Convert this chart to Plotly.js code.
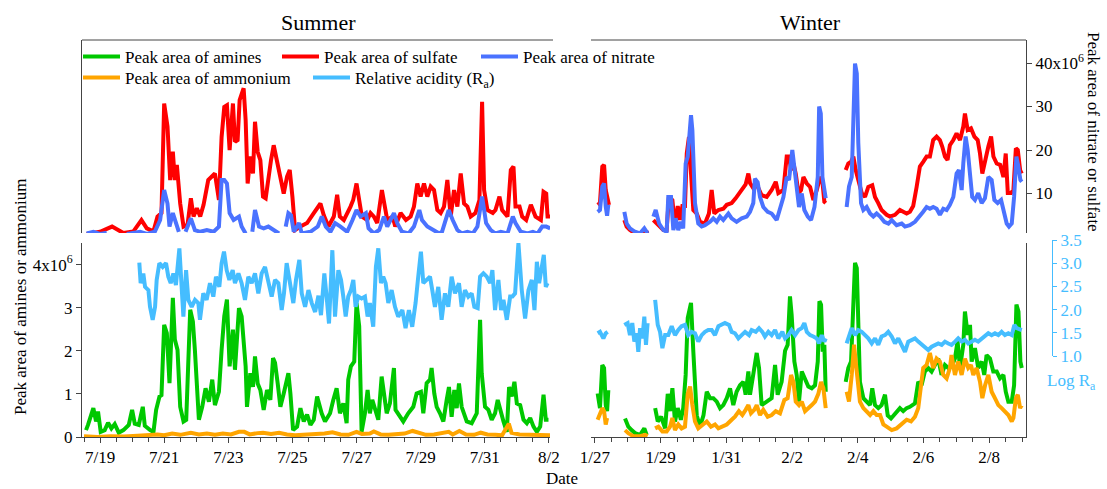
<!DOCTYPE html>
<html><head><meta charset="utf-8">
<script src="https://cdn.plot.ly/plotly-3.0.1.min.js"></script>
<style>html,body{margin:0;padding:0;background:#fff}#chart{width:1107px;height:489px}</style>
</head><body><div id="chart"></div>
<script>
// ---------- DATA (hours since season start, value) ----------
// Summer: hours since 2013-07-18 12:00 ; peak areas in units of 1e6
const summerStart = '2013-07-18T12:00:00Z';
const winterStart = '2014-01-27T00:00:00Z';

const sumSulfate = [[2,0.7],[12,1.2],[21,2.4],[29.5,0.9],[37,1.3],[43,3.9],[47,2.0],[52,1.3],[55,4.7],[58,5.5],[60,30.7],[62.5,25.4],[64.5,13.1],[66.5,19.6],[68,13.1],[69.5,16.6],[72,7.7],[74.5,2.4],[77.5,2.8],[80,8.9],[82,4.7],[84.5,6.6],[87,4.7],[89.5,7.4],[93,13.1],[96,13.9],[98,14.6],[101,8.5],[103,23.0],[105,29.9],[107,30.3],[109,20.0],[111.5,30.7],[113,21.9],[115,22.3],[116.5,31.5],[118,32.6],[119.5,34.2],[121,26.9],[122.5,12.3],[124.5,18.5],[126.5,14.6],[128,26.5],[130,19.6],[132,17.7],[134,9.3],[136,8.9],[138,13.9],[140,17.7],[142,21.1],[144.5,17.3],[147,13.1],[149.5,10.0],[152,13.9],[154,15.4],[156,9.3],[158,1.6],[162,2.4],[167,3.2],[172,5.5],[175,7.0],[177,7.7],[179.5,5.0],[183,2.4],[187,4.7],[189.5,9.7],[191.5,4.7],[194.5,3.9],[199.5,7.0],[201.5,8.5],[204,12.3],[206,8.5],[208,4.7],[212,3.9],[214.5,5.5],[217,4.7],[219.5,3.2],[223,10.8],[225,7.0],[227,3.9],[231,4.7],[233,2.4],[237,5.5],[241,3.9],[244.5,4.7],[247,7.0],[249.5,12.3],[252,9.3],[254.5,12.3],[257,9.3],[259.5,11.6],[262,10.8],[264.5,6.2],[267,5.5],[269.5,7.0],[272,13.1],[274.5,4.7],[277,10.8],[279.5,7.0],[282,14.6],[284.5,7.7],[287,7.0],[289.5,4.7],[293,5.5],[296,8.5],[298,31.1],[299.5,10.8],[302,6.2],[306,5.5],[308,6.2],[311,9.3],[313,6.2],[317,4.7],[319.5,15.4],[321.5,16.2],[323,7.0],[326,7.0],[328,4.7],[331,3.9],[334.5,7.4],[338,4.7],[342,3.9],[344,10.4],[346,10.0],[347,4.7],[349,4.7]];

const sumNitrate = [[2,0.8],[7,1.2],[12,0.7],[17,1.0],[20,null],[32,0.7],[42,1.2],[47,0.7],[53,1.2],[57,3.9],[60,10.8],[62.5,7.7],[64,2.4],[66.5,5.5],[68,3.9],[71,1.2],[73,null],[76,1.2],[80,4.3],[83,1.6],[87,1.2],[92,1.6],[97,1.2],[101,2.4],[103,13.1],[105,13.1],[107,12.3],[109,5.5],[112,3.9],[116,4.7],[118,2.4],[121,0.8],[123,null],[126,1.2],[128,6.2],[131,2.4],[134.5,2.0],[138,2.4],[142,1.6],[146,0.8],[148,null],[151,2.4],[153,5.5],[155,5.0],[157,1.2],[161,3.2],[163,0.8],[169.5,1.2],[175,2.4],[178,4.7],[181,2.4],[184.5,1.2],[188,3.2],[192,2.4],[197,1.2],[201,3.9],[204,6.2],[207,4.7],[211,5.5],[213,2.0],[217,0.8],[221,1.6],[224.5,4.7],[227,2.4],[232,5.5],[234.5,3.2],[238,1.2],[243,0.8],[247,2.4],[251,6.2],[253,3.9],[257,2.4],[262,1.6],[266,0.8],[268,1.2],[273,6.2],[276,3.9],[279.5,1.6],[283,0.8],[287,1.2],[291,0.8],[294.5,2.4],[298,9.3],[301,3.2],[304.5,1.6],[308,0.8],[312,1.2],[317,0.8],[321,4.7],[323,3.2],[327,1.2],[332,0.8],[336,1.2],[339.5,0.8],[343,2.4],[346,2.4],[349,2.0]];

const sumAmines = [[1.5,0.16],[3,0.28],[7,0.67],[9,0.36],[10.5,0.59],[12.5,0.12],[15.5,0.16],[18,0.33],[20.5,0.2],[23,0.3],[26,0.1],[29.5,0.16],[33.5,0.28],[36,0.63],[38,0.31],[41,0.28],[44,0.7],[45.5,0.26],[49.5,0.16],[52,0.12],[54,0.63],[56.5,0.94],[58,0.97],[60,2.6],[62,2.41],[64,1.25],[66.5,3.23],[68,2.26],[70,2.02],[72,0.7],[74.5,0.36],[76.5,0.4],[79.5,2.95],[81.5,2.68],[83,2.02],[86,0.4],[88.5,0.7],[91,1.13],[93.5,0.82],[96,1.33],[98,0.74],[101,1.05],[103,2.02],[105,2.8],[107,3.19],[109,1.64],[111.5,2.49],[113,1.56],[116,2.99],[118,2.8],[121,1.64],[122,0.7],[124.5,1.48],[126.5,1.16],[128,1.87],[130,1.24],[132,1.09],[134.5,0.63],[137,1.09],[139.5,0.86],[141.5,1.83],[143,1.72],[145,1.24],[147,0.7],[149.5,1.01],[153,1.48],[154.5,1.01],[156.5,0.16],[159.5,0.24],[162,0.67],[164.5,0.36],[167,0.52],[169.5,0.28],[172,0.4],[174.5,0.94],[177.9,0.55],[180.4,0.36],[184.2,0.55],[186.6,0.86],[189.1,1.13],[191.6,0.55],[194.1,0.78],[196.6,0.32],[197.8,1.33],[199.8,1.64],[202.3,1.75],[204,3.11],[206,2.57],[207.8,0.12],[210.3,0.55],[212.3,1.09],[214,0.55],[215.8,0.86],[217.8,0.63],[220.3,0.4],[222.8,1.4],[224.8,0.94],[226.6,0.55],[229,0.78],[232,1.6],[233.2,0.63],[236.5,0.47],[239,0.36],[242.7,0.55],[246.5,0.7],[249,1.01],[252.2,1.05],[254,0.55],[256.5,1.25],[259,1.33],[260.2,1.6],[262.2,1.01],[264,0.7],[266.5,0.55],[269,0.36],[271.5,0.86],[273.2,1.16],[275.2,0.47],[277.2,1.09],[279,0.67],[280.7,1.24],[282.7,0.7],[286.5,0.36],[290.2,0.32],[294,0.55],[296.5,2.72],[297.7,1.48],[300.2,0.7],[302.7,0.63],[305.2,0.4],[307.7,0.55],[309.7,0.86],[311.5,0.63],[314,0.36],[316.5,0.12],[318.2,1.16],[320.2,0.94],[322.2,1.28],[324,0.78],[326.5,0.74],[329,0.4],[331.5,0.32],[334,0.44],[336.5,0.24],[339,0.12],[341.5,0.24],[344,0.98],[345.7,0.4],[347.7,0.4]];

const sumAmmonium = [[0,0.02],[10,0.0],[20,0.02],[30,0.01],[40,0.03],[50,0.04],[55,0.06],[60,0.04],[66,0.08],[72,0.05],[80,0.1],[86,0.06],[92,0.08],[98,0.05],[104,0.08],[110,0.06],[116,0.12],[120,0.12],[124,0.06],[130,0.09],[134,0.1],[140,0.07],[146,0.1],[152,0.06],[158,0.04],[164,0.05],[170,0.06],[174,0.05],[180,0.08],[186,0.11],[192,0.06],[198,0.05],[204,0.12],[208,0.07],[214,0.08],[217,0.13],[222,0.06],[228,0.05],[234,0.07],[240,0.08],[246,0.14],[250,0.1],[256,0.05],[262,0.06],[268,0.08],[273,0.12],[276,0.06],[281,0.14],[286,0.06],[292,0.05],[297,0.1],[302,0.06],[308,0.05],[313,0.04],[318,0.31],[320,0.1],[326,0.06],[332,0.05],[338,0.04],[344,0.05],[349,0.04]];

const sumRa = [[41.4,3.01],[42.4,2.57],[44.4,2.78],[45.7,2.49],[48.2,2.42],[49.4,2.06],[51.4,1.78],[53.2,2.06],[54.4,2.64],[56.4,3.0],[58.9,2.92],[61.4,3.0],[63.1,2.71],[64.9,2.57],[66.9,2.78],[68.8,2.53],[71.4,3.32],[72.6,2.57],[74.4,1.85],[76.4,2.85],[78.1,2.21],[80.6,2.06],[83.1,2.21],[85.6,2.14],[86.8,1.78],[89.3,2.35],[91.8,2.21],[94.3,2.57],[96.8,2.28],[98.8,2.71],[101.3,2.49],[103,3.0],[104.8,3.25],[106.8,2.85],[108.8,2.64],[111.3,2.85],[113,2.57],[115.6,2.78],[118,2.57],[120.5,2.21],[123,2.71],[125.5,2.57],[128,2.78],[130.5,2.35],[133,2.78],[135.5,2.92],[138,2.57],[140.5,2.28],[143,2.64],[145.5,2.57],[148,1.99],[149.7,2.35],[151.7,3.0],[154.2,2.57],[156.7,2.14],[158.7,2.64],[161.2,3.07],[163,2.35],[165.5,2.06],[168,2.42],[170.5,2.14],[173,1.95],[175.5,2.3],[177.4,1.88],[179.9,2.78],[181.6,2.28],[183.4,1.7],[185.9,3.28],[187.9,1.85],[190.4,2.85],[192.4,2.64],[194.1,2.28],[195.9,1.85],[197.8,2.28],[199.8,2.42],[201.6,2.64],[203.3,2.06],[205.3,2.28],[207.8,2.24],[210.3,2.28],[212.3,1.85],[214,2.14],[216.5,1.63],[218.5,2.92],[220.3,3.32],[222.3,2.57],[224,2.71],[225.8,2.57],[227.8,2.14],[230.3,2.42],[232.8,2.06],[235.2,1.85],[238.3,1.99],[240.7,1.6],[243.2,1.99],[245.7,1.63],[248.2,2.14],[250.2,2.71],[252.2,3.25],[254,2.57],[256.5,2.64],[259,2.71],[260.7,2.42],[262.7,2.06],[265.2,2.49],[267.7,1.78],[270.2,2.35],[272.7,2.06],[275.2,2.71],[277.7,2.35],[280.7,2.57],[282.7,2.06],[285.2,2.42],[287.7,2.28],[290.2,2.35],[292.2,2.06],[294.7,2.03],[296.5,2.71],[299,2.78],[301.5,2.71],[304,2.57],[305.7,2.85],[307.7,1.99],[310.2,2.64],[312.2,1.99],[314,2.21],[316.5,1.78],[319,2.28],[320.7,2.28],[322.7,2.35],[325.2,3.43],[327.7,2.42],[330.2,1.81],[332.7,2.42],[335.2,2.64],[337.2,1.99],[339,3.03],[340.7,2.57],[342.7,2.92],[344.2,3.18],[345.7,2.49],[347,2.57]];

// Winter: hours since 2014-01-27 00:00
const winSulfate = [[2,7.4],[3.7,7.8],[5.4,16.2],[6.7,16.6],[7.9,10.8],[9.3,8.5],[10.3,7.4],[15,null],[21.5,3.9],[23.2,2.4],[25.6,1.6],[29.3,0.85],[33,0.7],[36.1,1.6],[37.8,1.0],[39.5,1.0],[41,null],[42.7,3.9],[45.1,3.1],[47.6,2.4],[50,1.6],[52.4,1.6],[54.1,9.3],[56.6,8.5],[58.5,2.4],[60.5,7.1],[62.2,3.9],[63.9,7.1],[65.8,7.1],[67.1,19.2],[68.7,23],[70.2,14.6],[71.9,6.2],[74.4,5.4],[76.8,3.5],[80.4,3.1],[83.3,5.4],[85.3,10.8],[87.2,5.4],[90.2,6.2],[93.8,6.5],[96.3,7.4],[99.9,7.8],[102.8,8.9],[106,10.4],[108.4,11.2],[110.1,12.1],[112.1,14.6],[113.3,12.4],[115.7,11.2],[118.2,12.1],[121.8,9.6],[125.5,9.2],[129.1,10.8],[132.1,12.7],[134,10.1],[137.7,10.8],[140.1,18.5],[141.8,18.5],[143.3,15.4],[145,16.9],[146.7,14.6],[148.7,10.1],[150.6,10.8],[152.3,13.8],[154.8,12.3],[157.2,11.5],[159.6,8.5],[162.1,10.8],[164.5,13.8],[166.2,12.7],[167.6,8.1],[168.6,7.8],[175,null],[183.2,15.4],[185.1,16.9],[187.1,17.3],[188.8,18.5],[190.5,15.4],[192.4,13.1],[194.9,10.1],[197.3,9.2],[199.7,11.5],[202.6,11.9],[204.6,9.2],[207,7.8],[209.4,6.2],[213.1,5.1],[215.5,4.7],[219.2,5.1],[222.8,6.2],[225.2,5.8],[227.7,5.4],[230.1,5.8],[232.5,7.1],[235,11.5],[237.4,16.2],[239.8,17.3],[242.3,18.5],[244.7,18.5],[247.1,22.3],[249.6,23.1],[252,22.3],[253.7,20.8],[255.7,18.5],[257.6,17.7],[259.3,21.1],[261.8,22.3],[264.2,23.8],[266.7,22.3],[269.1,25.4],[270.3,28.4],[272.3,24.6],[274.7,25],[277.2,23.1],[279.6,22.3],[281.3,19.2],[283,14.6],[285,17.7],[287.4,20.8],[289.4,23.1],[291.1,18.5],[293.5,16.9],[296,16.6],[298.4,13.8],[300.1,19.2],[301.6,10.1],[304,10.1],[305.7,10.8],[307.5,20.4],[308.9,20],[310.6,15.4],[311.8,14.6]];

const winNitrate = [[2,5.8],[3.7,6.2],[5.4,11.6],[6.7,12.3],[7.9,7.0],[8.9,4.9],[9.8,7.4],[15,null],[21.5,5.8],[23.2,3.1],[25.6,2.0],[29.3,1.2],[33,0.85],[36.1,2.0],[38.5,0.85],[41,null],[42.7,4.7],[44.4,6.2],[46.9,3.1],[50,1.6],[52.4,1.2],[53.6,9.2],[55.6,9.2],[57.3,1.6],[59,4.3],[60.9,1.6],[62.8,3.5],[64.5,2.0],[66.3,16.9],[67.8,18.5],[70.2,28],[71.2,24.6],[73.1,7.8],[75.5,3.1],[78,2.4],[80.4,2.7],[84.1,3.5],[86.5,4.3],[89,3.5],[91.4,4.7],[93.8,3.9],[97.5,5.4],[99.9,4.3],[103.5,3.5],[107.2,4.3],[110.9,4.7],[113.3,5.8],[115.7,7.8],[116.9,13.4],[118.9,12.6],[120.6,9.2],[123,6.9],[126.2,5.8],[129.1,5.4],[132.8,3.9],[135.2,6.5],[137.7,9.2],[140.1,13.8],[141.8,13.1],[144.2,20],[145.7,16.1],[147.4,11.6],[149.1,6.9],[151.1,10.0],[153,6.2],[155.5,4.7],[157.9,3.9],[160.4,6.9],[162.8,13.8],[163.8,30],[165,28.4],[166.2,13.8],[167.6,11.6],[168.6,8.9],[175,null],[183.9,6.9],[185.6,11.6],[187.6,13.8],[188.8,24.6],[190,39.9],[191.3,37.6],[192.4,21.6],[194.4,7.8],[196.1,6.2],[198.5,6.9],[201,5.4],[203.4,4.7],[205.8,5.4],[208.3,4.7],[211.4,3.5],[214.4,3.1],[216.8,3.9],[220.4,2.7],[224.1,3.1],[226.5,2.4],[230.1,2.7],[233.8,3.5],[237.4,4.7],[239.8,5.8],[242.3,6.9],[244.7,6.5],[247.1,6.9],[249.6,6.5],[252,5.1],[254.5,6.5],[256.9,6.2],[259.3,7.4],[261.8,9.2],[264.2,14.6],[265.9,15.4],[267.9,10.8],[269.1,16.9],[270.8,23.1],[272.3,20],[273.9,14.6],[275.6,9.2],[277.6,8.5],[280,10.1],[282.5,7.8],[284.9,8.9],[287.4,13.8],[289.8,13.1],[291.8,8.5],[294.2,7.8],[296.7,8.5],[298.6,5.8],[300.8,3.1],[302.5,2.4],[304.5,3.1],[306.2,9.2],[307.9,18.5],[309.4,16.1],[310.8,13.1],[311.8,12.7]];

const winAmines = [[2,1.01],[3.7,0.67],[5.4,1.67],[6.7,1.6],[7.9,0.74],[8.9,0.6],[9.8,1.09],[15,null],[22,0.43],[24.4,0.24],[26.8,0.16],[29.3,0.09],[33,0.05],[36.1,0.2],[37.8,0.05],[41,null],[44,0.67],[45.9,0.36],[48.4,0.47],[51.3,0.2],[53.2,1.0],[54.9,0.6],[56.6,1.13],[58.5,0.36],[60.5,0.67],[62.8,0.4],[64.5,0.67],[66.3,1.44],[67.8,2.76],[70.2,3.11],[71.9,1.98],[74.4,0.5],[76.8,0.24],[79.3,0.5],[81.7,1.05],[84.1,0.9],[86.5,0.9],[89,0.82],[91.4,0.67],[93.8,0.74],[96.3,0.9],[98.7,1.13],[101.1,0.74],[103.5,1.05],[106,1.2],[108.4,1.28],[110.1,0.98],[112.1,1.52],[113.3,0.98],[115.7,1.44],[118.2,1.95],[119.9,1.6],[121.8,0.74],[125.5,0.82],[129.1,0.9],[131.6,1.67],[133.5,0.98],[136.4,1.28],[138.9,2.0],[140.8,2.14],[142.5,3.26],[143.7,2.84],[145.7,1.75],[147.4,1.44],[149.1,0.82],[151.1,1.52],[153.5,1.36],[155.9,1.17],[158.4,1.13],[160.8,1.2],[162.8,1.75],[164,3.15],[165.2,3.07],[166.4,1.98],[167.6,2.14],[168.6,1.05],[175,null],[183.2,1.28],[185.1,1.6],[187.1,1.75],[188.8,3.15],[190,4.04],[191.3,3.92],[192.4,2.37],[193.6,1.28],[196.1,0.9],[198.5,0.82],[201,0.74],[202.6,1.13],[204.6,0.74],[207,0.67],[209.4,0.74],[211.9,0.98],[213.9,0.5],[216.3,0.43],[219.2,0.55],[222.8,0.67],[225.2,0.6],[227.7,0.67],[230.1,0.7],[233.8,0.78],[236.2,1.28],[238.6,1.2],[241,1.52],[243.5,1.6],[245.9,1.52],[248.4,1.67],[250.8,1.82],[253.2,1.44],[255.7,1.67],[258.1,1.6],[260.5,1.63],[263,1.82],[264.9,2.22],[266.7,1.6],[269.1,2.14],[270.3,2.91],[272.3,2.37],[274,2.6],[275.2,1.75],[277.6,2.06],[280,1.6],[282.5,1.75],[284.4,1.44],[286.1,1.9],[288.6,1.82],[291,1.52],[293.5,1.52],[295.9,1.36],[298.4,1.44],[300.1,1.05],[302,0.82],[304.5,0.82],[306.2,1.2],[307.9,3.07],[309.4,2.91],[310.8,1.75],[311.8,1.6]];

const winAmmonium = [[2,0.4],[3.7,0.51],[5.4,0.67],[6.7,0.6],[7.9,0.29],[8.9,0.44],[15,null],[22,0.16],[24.4,0.09],[28,0.02],[33,0.02],[36.6,0.05],[38.5,0.02],[41,null],[44,0.2],[46.4,0.24],[49.3,0.13],[52.4,0.13],[54.9,0.24],[56.6,0.44],[58.5,0.16],[60.9,0.29],[63.3,0.2],[65.8,0.24],[67.8,1.0],[69.5,1.17],[71.2,0.74],[73.1,0.36],[75.5,0.2],[79.3,0.29],[81.7,0.36],[84.8,0.24],[87.7,0.29],[90.2,0.2],[93.1,0.24],[96.3,0.29],[99.9,0.4],[102.3,0.47],[105.2,0.6],[107.7,0.51],[110.1,0.63],[112.1,0.74],[114,0.55],[116.4,0.63],[118.2,0.74],[120.6,0.51],[123,0.63],[126.2,0.47],[129.1,0.51],[132.1,0.6],[135.2,0.55],[138.4,0.86],[140.8,0.9],[143.3,1.44],[145,1.28],[146.7,0.82],[149.1,0.74],[151.1,0.82],[153.5,0.6],[155.5,0.67],[158.4,0.74],[160.8,0.82],[163.2,1.0],[165.2,1.28],[166.9,1.13],[168.6,0.67],[175,null],[183.9,1.05],[185.6,0.82],[187.6,1.44],[189.3,2.14],[190.5,1.75],[192,1.28],[193.6,0.82],[196.1,0.67],[198.5,0.6],[201,0.51],[203.4,0.6],[205.8,0.51],[208.3,0.51],[210.7,0.29],[213.1,0.24],[216.8,0.16],[220.4,0.2],[224.1,0.29],[227.7,0.4],[230.9,0.36],[233.8,0.47],[236.2,0.67],[239.8,1.6],[242.3,1.67],[244.7,1.95],[247.1,1.6],[249.6,1.82],[252,1.75],[254.5,1.44],[256.9,1.36],[259.3,1.6],[260.5,1.9],[263,1.44],[265.4,1.75],[267.9,1.44],[270.3,1.82],[272.7,1.6],[274.7,1.67],[276.4,1.44],[278.8,1.6],[281.3,1.28],[283,0.9],[285,1.2],[287.4,1.44],[289.8,1.05],[292.2,0.9],[294.7,0.74],[297.1,0.67],[299.5,0.6],[302,0.51],[304.5,0.36],[305.7,0.44],[307.5,0.9],[308.9,0.98],[310.6,0.67],[311.8,0.74]];

const winRa = [[2,1.49],[3.7,1.52],[6.2,1.38],[7.9,1.49],[9.3,1.52],[15,null],[21.5,1.67],[23.9,1.71],[25.6,1.45],[27.3,1.71],[28.8,1.31],[30.5,1.49],[31.7,1.09],[33,1.6],[34.7,1.38],[36.1,1.85],[37.3,1.24],[38.5,1.71],[41,null],[44,2.21],[45.9,1.67],[47.6,1.52],[49.3,1.17],[51.3,1.45],[53.6,1.45],[56.1,1.64],[58.5,1.45],[60.9,1.56],[63.3,1.64],[65.8,1.67],[68.2,1.45],[70.6,1.52],[73.1,1.49],[75.5,1.31],[78,1.45],[80.4,1.52],[82.8,1.56],[85.3,1.56],[87.7,1.45],[90.2,1.64],[92.6,1.67],[95,1.71],[98,1.67],[99.9,1.52],[102.3,1.49],[104.8,1.38],[107.2,1.45],[109.7,1.52],[112.6,1.45],[114.5,1.56],[117.5,1.52],[119.9,1.6],[122.3,1.52],[124.2,1.42],[126.7,1.52],[129.1,1.45],[131.6,1.56],[134,1.38],[136.9,1.52],[138.9,1.38],[141.3,1.45],[143.7,1.56],[146.2,1.45],[148.7,1.56],[151.1,1.6],[153,1.71],[154.8,1.52],[157.2,1.45],[159.6,1.42],[162.1,1.38],[163.8,1.27],[165.7,1.45],[167.6,1.31],[168.6,1.38],[175,null],[183.9,1.27],[185.6,1.45],[187.6,1.6],[190,1.45],[192.4,1.56],[194.9,1.52],[197.3,1.45],[199.7,1.38],[202.2,1.27],[204.6,1.38],[207,1.24],[209.4,1.42],[211.9,1.45],[214.3,1.52],[216.8,1.42],[219.2,1.27],[221.6,1.38],[224.1,1.24],[226.5,1.09],[228.9,1.31],[231.4,1.35],[233.8,1.38],[236.2,1.31],[238.7,1.24],[241.1,1.17],[243.5,1.13],[246,1.2],[248.4,1.24],[250.8,1.27],[253.3,1.24],[255.7,1.31],[258.1,1.27],[260.5,1.24],[263,1.31],[265.4,1.38],[267.9,1.31],[270.3,1.35],[272.7,1.27],[275.2,1.31],[277.6,1.35],[280,1.31],[282.5,1.38],[284.9,1.42],[287.4,1.49],[289.8,1.45],[292.2,1.49],[294.7,1.45],[297.1,1.52],[299.5,1.45],[302,1.49],[304.5,1.45],[306.4,1.67],[308.1,1.6],[310.6,1.56],[311.8,1.56]];

const names = {
  amines: 'Peak area of amines',
  sulfate: 'Peak area of sulfate',
  nitrate: 'Peak area of nitrate',
  ammonium: 'Peak area of ammonium',
  ra: 'Relative acidity (R<sub>a</sub>)'
};
const yTicksLeft = {vals:[0,1,2,3,4], text:['0','1','2','3','4x10<sup>6</sup>']};
const yTicksRight = {vals:[10,20,30,40], text:['10','20','30','40x10<sup>6</sup>']};

// ---------- STYLE / LAYOUT ----------
const W = 1107, H = 489;
const FONT = 'Liberation Serif, Times New Roman, serif';
const C = {amines:'#00c800', sulfate:'#ff0000', nitrate:'#4a72ff', ammonium:'#ffa500', ra:'#45bdff'};
const AX = '#444';

function toSeries(start, pts){
  const b = Date.parse(start);
  return {
    x: pts.map(p => new Date(b + p[0]*3600000).toISOString().replace('T',' ').slice(0,19)),
    y: pts.map(p => p[1])
  };
}
function tr(start, pts, key, xa, ya, show, leg){
  const s = toSeries(start, pts);
  return {type:'scatter', mode:'lines', x:s.x, y:s.y, xaxis:xa, yaxis:ya,
    name:names[key], line:{color:C[key], width:4}, showlegend:show, legend:leg,
    connectgaps:false, hoverinfo:'skip'};
}

const data = [
  tr(summerStart, sumSulfate, 'sulfate', 'x', 'y3', true, 'legend'),
  tr(winterStart, winSulfate, 'sulfate', 'x2', 'y4', false, 'legend'),
  tr(summerStart, sumNitrate, 'nitrate', 'x', 'y3', true, 'legend'),
  tr(winterStart, winNitrate, 'nitrate', 'x2', 'y4', false, 'legend'),
  tr(summerStart, sumAmines, 'amines', 'x', 'y', true, 'legend'),
  tr(winterStart, winAmines, 'amines', 'x2', 'y2', false, 'legend'),
  tr(summerStart, sumAmmonium, 'ammonium', 'x', 'y', true, 'legend2'),
  tr(winterStart, winAmmonium, 'ammonium', 'x2', 'y2', false, 'legend2'),
  tr(summerStart, sumRa, 'ra', 'x', 'y5', true, 'legend2'),
  tr(winterStart, winRa, 'ra', 'x2', 'y5', false, 'legend2')
];
// legend order: amines, sulfate, nitrate | ammonium, Ra
data[4].legendrank = 1; data[0].legendrank = 2; data[2].legendrank = 3;
data[6].legendrank = 1; data[8].legendrank = 2;

const px = v => v / W, py = v => 1 - v / H;
const xCommon = {type:'date', showline:true, linecolor:AX, linewidth:1, ticks:'outside', ticklen:5,
  tickcolor:AX, dtick:172800000, tickformat:'%-m/%-d', showgrid:false, zeroline:false,
  tickfont:{family:FONT, size:17, color:'#000'},
  minor:{dtick:43200000, ticks:'outside', ticklen:4, tickcolor:AX, showgrid:false}};

function ann(text, x, y, size, extra){
  return Object.assign({text:text, xref:'paper', yref:'paper', x:px(x), y:py(y), xanchor:'center',
    yanchor:'middle', showarrow:false, font:{family:FONT, size:size, color:'#000'}}, extra || {});
}

const layout = {
  width:W, height:H, margin:{l:0,r:0,t:0,b:0}, paper_bgcolor:'#fff', plot_bgcolor:'rgba(0,0,0,0)',
  font:{family:FONT, size:17, color:'#000'},
  xaxis: Object.assign({}, xCommon, {domain:[px(82), px(550)], anchor:'y',
    range:['2013-07-18 10:30','2013-08-02 00:50'], tick0:'2013-07-19'}),
  xaxis2: Object.assign({}, xCommon, {domain:[px(591), px(1026)], anchor:'y2',
    range:['2014-01-26 21:09','2014-02-09 02:54'], tick0:'2014-01-27'}),
  yaxis: {domain:[py(437), py(243)], anchor:'x', range:[0,4.5], showline:true, linecolor:AX,
    ticks:'outside', ticklen:5, tickcolor:AX, tickvals:yTicksLeft.vals, ticktext:yTicksLeft.text,
    showgrid:false, zeroline:false, tickfont:{family:FONT,size:17,color:'#000'}},
  yaxis2: {domain:[py(437), py(243)], anchor:'x2', side:'right', range:[0,4.5], showline:true,
    linecolor:AX, ticks:'', showticklabels:false, showgrid:false, zeroline:false},
  yaxis3: {domain:[py(233), py(40)], anchor:'x', range:[0.92,45.3], showline:true, linecolor:AX,
    ticks:'', showticklabels:false, showgrid:false, zeroline:false},
  yaxis4: {domain:[py(233), py(40)], anchor:'x2', side:'right', range:[0.92,45.3], showline:true,
    linecolor:AX, ticks:'outside', ticklen:5, tickcolor:AX, tickvals:yTicksRight.vals,
    ticktext:yTicksRight.text, showgrid:false, zeroline:false, tickfont:{family:FONT,size:17,color:'#000'}},
  yaxis5: {domain:[py(356), py(240)], anchor:'free', position:px(1052), side:'right', range:[1,3.5],
    dtick:0.5, tick0:1, tickformat:'.1f', showline:true, linecolor:C.ra, ticks:'outside', ticklen:4,
    tickcolor:C.ra, tickfont:{family:FONT,size:17,color:C.ra}, showgrid:false, zeroline:false},
  legend: {orientation:'h', x:px(78), y:py(39), xanchor:'left', yanchor:'top', itemwidth:37,
    entrywidth:147, entrywidthmode:'pixels',
    bgcolor:'rgba(0,0,0,0)', font:{family:FONT,size:17,color:'#000'}, traceorder:'normal'},
  legend2: {orientation:'h', x:px(78), y:py(60), xanchor:'left', yanchor:'top', itemwidth:37,
    entrywidth:178, entrywidthmode:'pixels',
    bgcolor:'rgba(0,0,0,0)', font:{family:FONT,size:17,color:'#000'}, traceorder:'normal'},
  shapes: [
    {type:'line', xref:'paper', yref:'paper', x0:px(82), x1:px(553), y0:py(40), y1:py(40), line:{color:AX,width:1}},
    {type:'line', xref:'paper', yref:'paper', x0:px(591), x1:px(1026), y0:py(40), y1:py(40), line:{color:AX,width:1}}
  ],
  annotations: [
    ann('Summer', 318, 22, 22),
    ann('Winter', 810, 23, 22),
    ann('Date', 562, 478, 17),
    ann('Peak area of amines or ammonium', 20, 297, 17, {textangle:-90}),
    ann('Peak area of nitrate or sulfate', 1094, 132, 17, {textangle:90}),
    ann('Log R<sub>a</sub>', 1071, 382, 17, {font:{family:FONT,size:17,color:C.ra}})
  ]
};

Plotly.newPlot('chart', data, layout, {staticPlot:true, displayModeBar:false});
</script></body></html>
